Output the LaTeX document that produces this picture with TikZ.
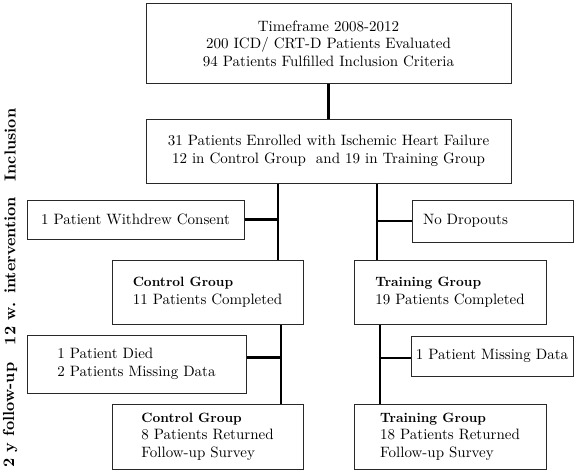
\documentclass[tikz,border=0pt]{standalone}
\usepackage{fontspec}
\setmainfont{lmroman10-regular.otf}[BoldFont=lmroman10-bold.otf]
\usepackage{tikz}
\usetikzlibrary{positioning, calc}
\newcommand{\boxfont}{\fontsize{15}{17.5}\selectfont}
\newcommand{\grp}[1]{{\fontsize{13.5}{17.5}\selectfont\bfseries #1}}
\newcommand{\sidefont}{\fontsize{16}{18}\selectfont\bfseries}
\definecolor{boxline}{RGB}{40,40,40}
\tikzset{
  flowbox/.style={
    rectangle, draw=boxline, line width=1pt,
    fill=white, align=center, font=\boxfont,
    inner sep=2pt
  },
  flowbox-left/.style={flowbox, align=left},
  sidelabel/.style={
    rotate=90, font=\sidefont, inner sep=0pt
  },
  flowline/.style={draw=black, line width=2.6pt}
}

\begin{document}
\begin{tikzpicture}[x=1pt, y=-1pt]
  \useasboundingbox (0,0) rectangle (576,475);

  \node[flowbox, minimum width=365pt, minimum height=80pt] (frame) at (328.5,43.5)
    {Timeframe 2008-2012\\200 ICD/ CRT-D Patients Evaluated\\94 Patients Fulfilled Inclusion Criteria};
  \node[flowbox, minimum width=365pt, minimum height=64pt] (enrol) at (328.5,151)
    {31 Patients Enrolled with Ischemic Heart Failure\\12 in Control Group\ \ and 19 in Training Group};

  \node[flowbox, minimum width=217pt, minimum height=39pt] (withdrew) at (135.5,219.5)
    {1 Patient Withdrew Consent};
  \node[flowbox-left, text width=139pt, inner xsep=11pt, minimum height=42pt] (nodrop) at (492.5,221)
    {No Dropouts};

  \node[flowbox-left, minimum width=191pt, minimum height=64pt] (ctrlwk) at (207.5,292)
    {\grp{Control Group}\\11 Patients Completed};
  \node[flowbox-left, minimum width=192pt, minimum height=64pt] (trainwk) at (450,292)
    {\grp{Training Group}\\19 Patients Completed};

  \node[flowbox-left, minimum width=219pt, minimum height=58pt] (died) at (136.5,364)
    {1 Patient Died\\2 Patients Missing Data};
  \node[flowbox, minimum width=162pt, minimum height=40pt] (missing) at (492,356)
    {1 Patient Missing Data};

  \node[flowbox-left, minimum width=191pt, minimum height=65pt] (ctrlfu) at (207.5,436.5)
    {\grp{Control Group}\\8 Patients Returned\\Follow-up Survey};
  \node[flowbox-left, minimum width=192pt, minimum height=65pt] (trainfu) at (450,436.5)
    {\grp{Training Group}\\18 Patients Returned\\Follow-up Survey};

  \node[sidelabel] (inclusion) at (10,145) {Inclusion};
  \node[sidelabel] (intervention) at (10,271) {12 w. intervention};
  \node[sidelabel] (followup) at (10,415) {2 y follow-up};

  \coordinate (lefta) at (278,0);
  \coordinate (righta) at (377,0);
  \coordinate (leftb) at (281,0);
  \coordinate (rightb) at (380,0);

  \draw[flowline] (frame.south) -- (enrol.north);
  \draw[flowline] (lefta |- enrol.south) -- (lefta |- ctrlwk.north);
  \draw[flowline] (righta |- enrol.south) -- (righta |- trainwk.north);
  \draw[flowline] (withdrew.east) -- (withdrew.east -| lefta);
  \draw[flowline] (nodrop.west) -- (nodrop.west -| righta);
  \draw[flowline] (leftb |- ctrlwk.south) -- (leftb |- ctrlfu.north);
  \draw[flowline] (rightb |- trainwk.south) -- (rightb |- trainfu.north);
  \draw[flowline] ([yshift=6.5pt]died.east) -- ([yshift=6.5pt]died.east -| leftb);
  \draw[flowline] ([yshift=-2pt]missing.west) -- ([yshift=-2pt]missing.west -| rightb);
\end{tikzpicture}
\end{document}
